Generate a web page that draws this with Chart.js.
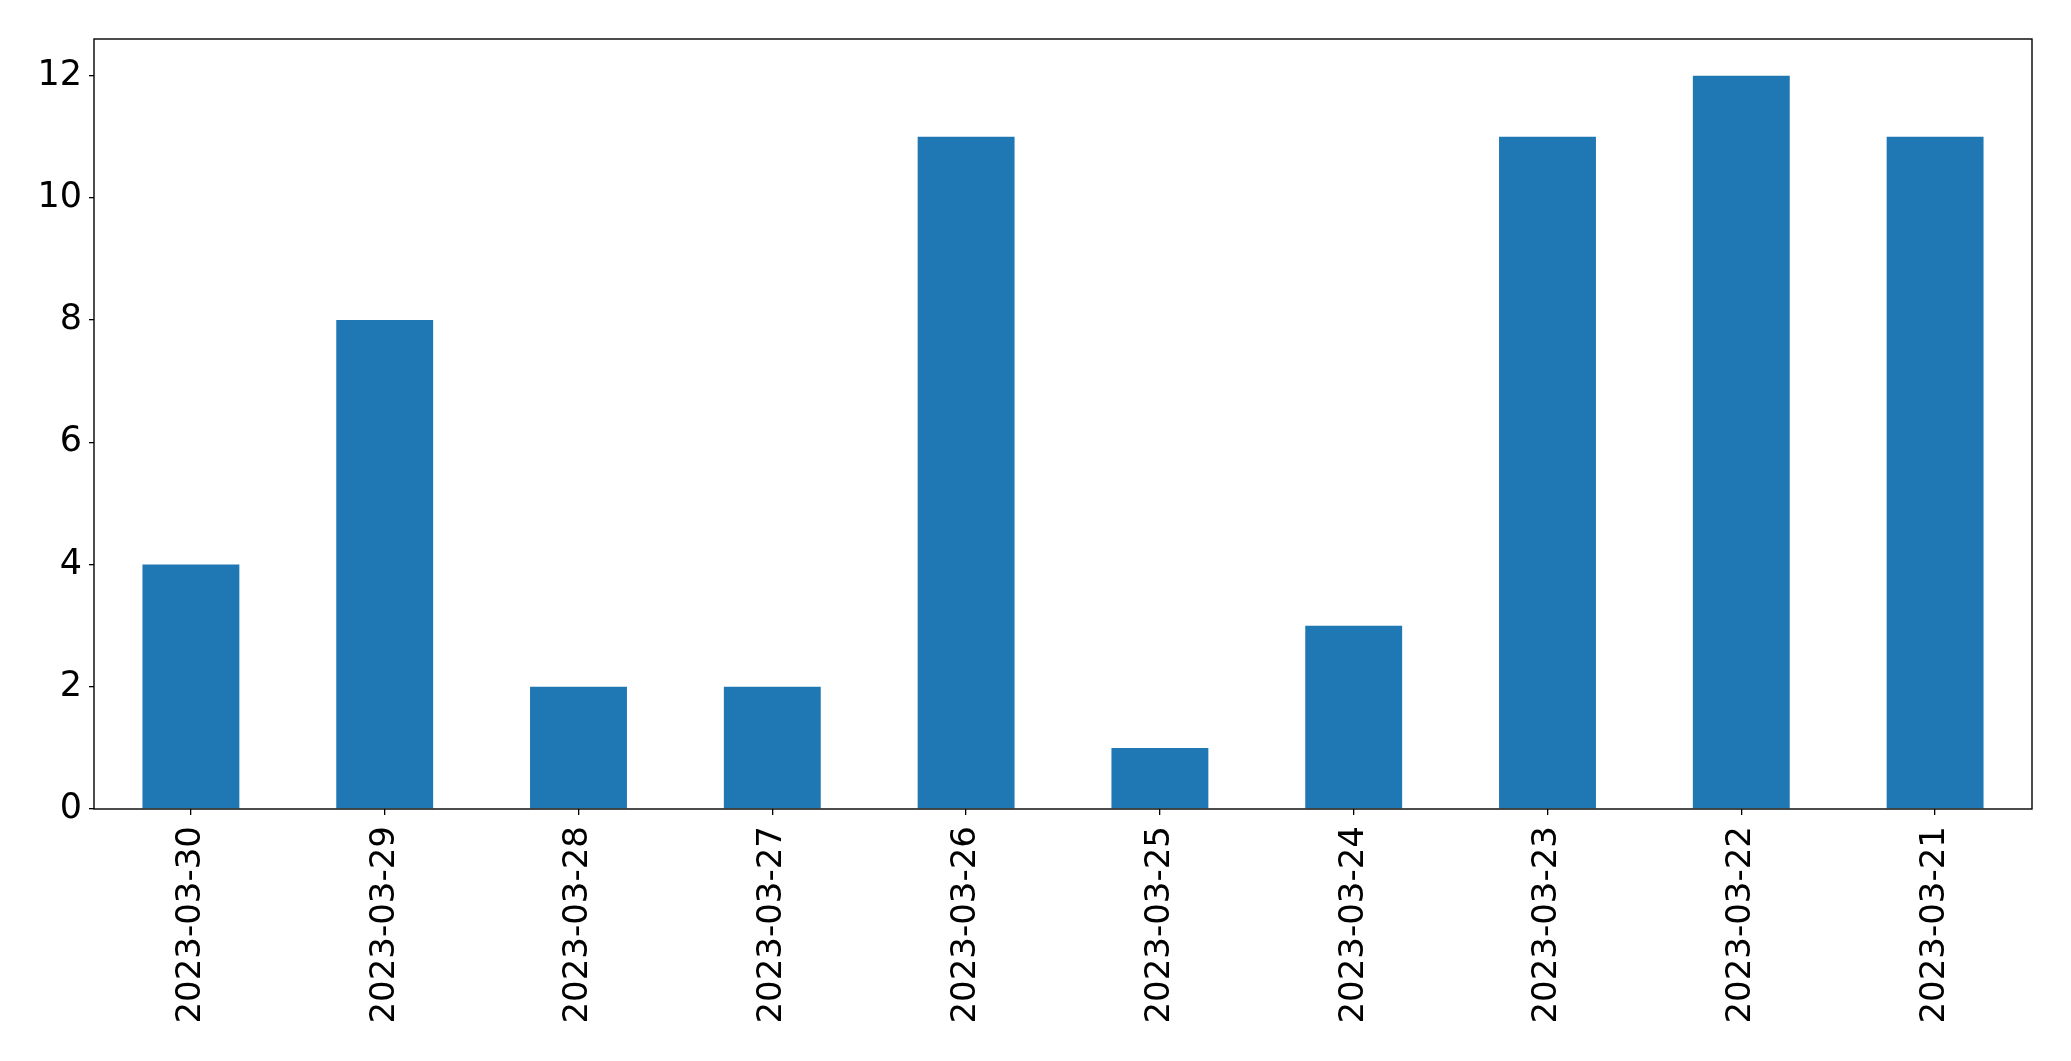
<!DOCTYPE html>
<html>
<head>
<meta charset="utf-8">
<script src="https://cdn.jsdelivr.net/npm/chart.js@4/dist/chart.umd.min.js"></script>
<style>
  html, body { margin: 0; padding: 0; background: #fff; }
  canvas { display: block; }
</style>
</head>
<body>
<canvas id="chart" width="2071" height="1061"></canvas>
<script>
// values
const dates = ["2023-03-30", "2023-03-29", "2023-03-28", "2023-03-27", "2023-03-26",
               "2023-03-25", "2023-03-24", "2023-03-23", "2023-03-22", "2023-03-21"];
const counts = [4, 8, 2, 2, 11, 1, 3, 11, 12, 11];
const yTicks = [0, 2, 4, 6, 8, 10, 12];
const yMax = 12.6;

const FONT = "'DejaVu Sans', sans-serif";

// box round the plot area, like the matplotlib spines
const frame = {
    id: "frame",
    afterDraw(chart) {
        const { ctx, chartArea: a } = chart;
        ctx.save();
        ctx.strokeStyle = "#000";
        ctx.lineWidth = 1.4;
        ctx.strokeRect(a.left, a.top, a.right - a.left, a.bottom - a.top);
        ctx.restore();
    },
};

new Chart(document.getElementById("chart").getContext("2d"), {
    type: "bar",
    data: {
        labels: dates,
        datasets: [{
            data: counts,
            backgroundColor: "#1f77b4",
            borderWidth: 0,
            barPercentage: 0.5,
            categoryPercentage: 1,
        }],
    },
    options: {
        responsive: false,
        animation: false,
        events: [],
        layout: { padding: { top: 39, right: 39, left: 0, bottom: 0 } },
        plugins: { legend: { display: false }, tooltip: { enabled: false } },
        scales: {
            x: {
                offset: true,
                grid: { offset: false, drawOnChartArea: false, drawTicks: true, tickLength: 6, color: "#000", lineWidth: 1.3 },
                border: { display: false },
                ticks: {
                    color: "#000",
                    font: { family: FONT, size: 34 },
                    minRotation: 90,
                    maxRotation: 90,
                    padding: 11,
                    autoSkip: false,
                },
                afterFit(scale) { scale.height = 252; },
            },
            y: {
                min: 0,
                max: yMax,
                grid: { drawOnChartArea: false, drawTicks: true, tickLength: 5, color: "#000", lineWidth: 1.3 },
                border: { display: false },
                afterBuildTicks(scale) { scale.ticks = yTicks.map(v => ({ value: v })); },
                ticks: {
                    color: "#000",
                    font: { family: FONT, size: 35 },
                    padding: 7,
                },
                afterFit(scale) { scale.width = 94; },
            },
        },
    },
    plugins: [frame],
});
</script>
</body>
</html>
